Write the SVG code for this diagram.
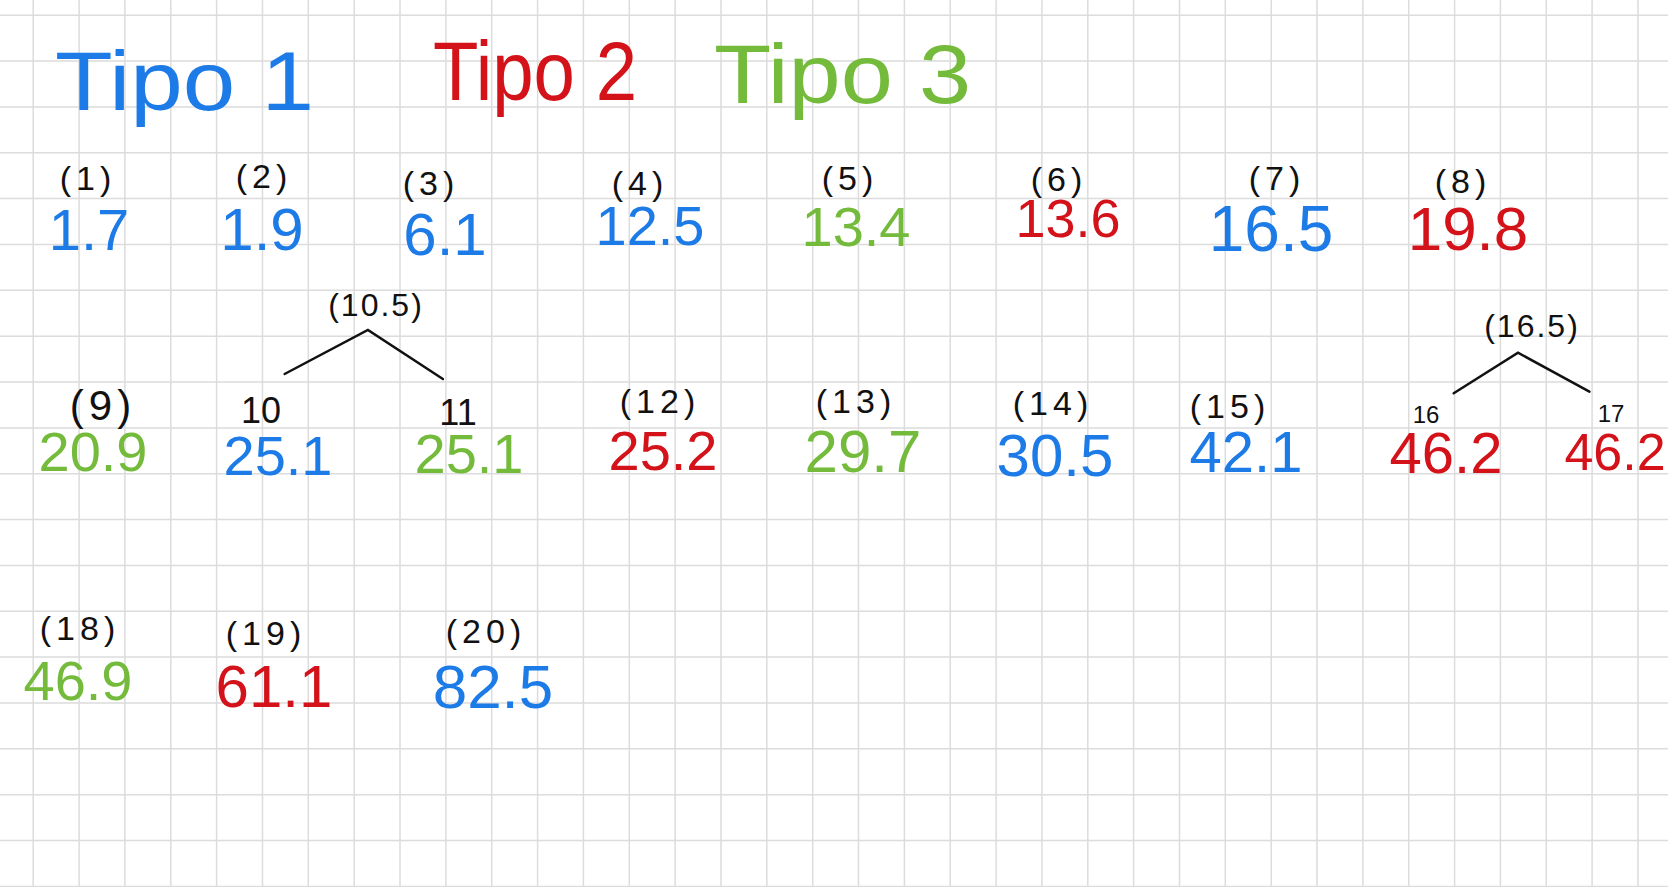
<svg xmlns="http://www.w3.org/2000/svg" width="1668" height="887" viewBox="0 0 1668 887">
<style>
text{font-family:"Liberation Sans","DejaVu Sans",sans-serif;text-anchor:middle}
.b{fill:#1c7be6}.r{fill:#d3121a}.g{fill:#74bb3c}.k{fill:#111}
.lab{font-size:34px;letter-spacing:5px}
.val{font-size:58px}
.title{font-size:84px;text-anchor:start}
.grid{stroke:#dcdcdc;stroke-width:1.5;fill:none}
.edge{stroke:#111;stroke-width:2.5;fill:none;stroke-linecap:round}
</style>
<rect width="1668" height="887" fill="#ffffff"/>
<path class="grid" d="M33.2 0V887M79.1 0V887M124.9 0V887M170.8 0V887M216.6 0V887M262.5 0V887M308.3 0V887M354.2 0V887M400 0V887M445.9 0V887M491.7 0V887M537.6 0V887M583.4 0V887M629.3 0V887M675.1 0V887M721 0V887M766.8 0V887M812.7 0V887M858.5 0V887M904.4 0V887M950.2 0V887M996.1 0V887M1041.9 0V887M1087.8 0V887M1133.6 0V887M1179.5 0V887M1225.3 0V887M1271.2 0V887M1317 0V887M1362.9 0V887M1408.7 0V887M1454.6 0V887M1500.4 0V887M1546.3 0V887M1592.1 0V887M1638 0V887M0 15.2H1668M0 61.1H1668M0 106.9H1668M0 152.8H1668M0 198.6H1668M0 244.5H1668M0 290.3H1668M0 336.2H1668M0 382H1668M0 427.9H1668M0 473.7H1668M0 519.6H1668M0 565.4H1668M0 611.3H1668M0 657.1H1668M0 703H1668M0 748.8H1668M0 794.7H1668M0 840.5H1668M0 886.4H1668"/>

<g id="legend">
<text class="title b" x="55" y="110" textLength="259" lengthAdjust="spacingAndGlyphs">Tipo 1</text>
<text class="title r" x="433" y="100" textLength="204" lengthAdjust="spacingAndGlyphs">Tipo 2</text>
<text class="title g" x="714" y="103" textLength="257" lengthAdjust="spacingAndGlyphs">Tipo 3</text>
</g>

<g id="connectors">
<path class="edge" d="M284.6 374L367.9 330L442.9 379"/>
<path class="edge" d="M1453.7 393.3L1518 352.7L1589.4 391.7"/>
</g>

<g id="n1"><text class="lab k" x="88" y="190">(1)</text><text class="val b" x="89" y="250">1.7</text></g>
<g id="n2"><text class="lab k" x="264" y="188">(2)</text><text class="val b" x="262" y="250" style="font-size:60px">1.9</text></g>
<g id="n3"><text class="lab k" x="431" y="195">(3)</text><text class="val b" x="445" y="255" style="font-size:60px">6.1</text></g>
<g id="n4"><text class="lab k" x="640" y="195">(4)</text><text class="val b" x="650" y="245" style="font-size:56px">12.5</text></g>
<g id="n5"><text class="lab k" x="850" y="190">(5)</text><text class="val g" x="856" y="246" style="font-size:56px">13.4</text></g>
<g id="n6"><text class="lab k" x="1059" y="191">(6)</text><text class="val r" x="1068" y="237" style="font-size:54px">13.6</text></g>
<g id="n7"><text class="lab k" x="1277" y="190">(7)</text><text class="val b" x="1271" y="251" style="font-size:64px">16.5</text></g>
<g id="n8"><text class="lab k" x="1463" y="193">(8)</text><text class="val r" x="1468" y="250" style="font-size:62px">19.8</text></g>

<g id="n9"><text class="lab k" x="103" y="420" style="font-size:42px">(9)</text><text class="val g" x="93" y="471" style="font-size:56px">20.9</text></g>
<g id="n10_5"><text class="lab k" x="376" y="316" style="font-size:32px;letter-spacing:2px">(10.5)</text></g>
<g id="n10"><text class="k" x="261" y="423" style="font-size:36px">10</text><text class="val b" x="278" y="475" style="font-size:56px">25.1</text></g>
<g id="n11"><text class="k" x="458" y="425" style="font-size:36px">11</text><text class="val g" x="469" y="473" style="font-size:56px">25.1</text></g>
<g id="n12"><text class="lab k" x="660" y="413">(12)</text><text class="val r" x="663" y="470" style="font-size:56px">25.2</text></g>
<g id="n13"><text class="lab k" x="856" y="413">(13)</text><text class="val g" x="863" y="472" style="font-size:60px">29.7</text></g>
<g id="n14"><text class="lab k" x="1053" y="415">(14)</text><text class="val b" x="1055" y="476" style="font-size:60px">30.5</text></g>
<g id="n15"><text class="lab k" x="1230" y="418">(15)</text><text class="val b" x="1246" y="472" style="font-size:58px">42.1</text></g>
<g id="n16_5"><text class="lab k" x="1532" y="337" style="font-size:32px;letter-spacing:2px">(16.5)</text></g>
<g id="n16"><text class="k" x="1426" y="423" style="font-size:24px">16</text><text class="val r" x="1446" y="473" style="font-size:58px">46.2</text></g>
<g id="n17"><text class="k" x="1611" y="422" style="font-size:24px">17</text><text class="val r" x="1615" y="470" style="font-size:52px">46.2</text></g>

<g id="n18"><text class="lab k" x="80" y="640">(18)</text><text class="val g" x="78" y="700" style="font-size:56px">46.9</text></g>
<g id="n19"><text class="lab k" x="266" y="645">(19)</text><text class="val r" x="274" y="707" style="font-size:60px">61.1</text></g>
<g id="n20"><text class="lab k" x="486" y="643">(20)</text><text class="val b" x="493" y="708" style="font-size:62px">82.5</text></g>
</svg>
